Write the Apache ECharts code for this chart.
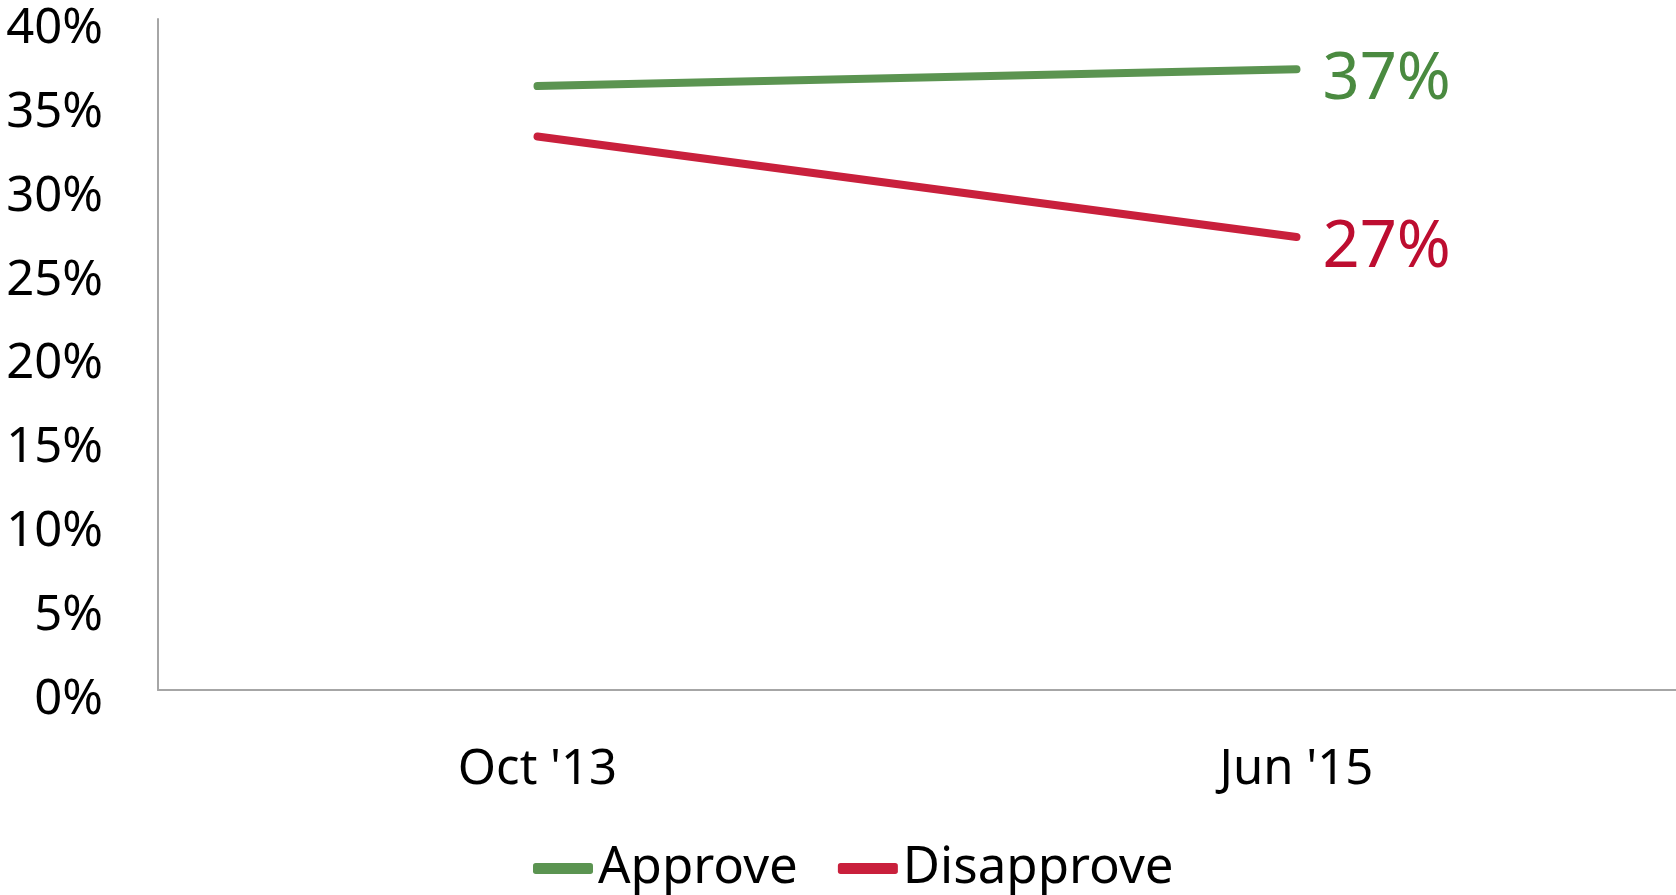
<!DOCTYPE html>
<html>
<head>
<meta charset="utf-8">
<script src="https://cdn.jsdelivr.net/npm/echarts@6/dist/echarts.min.js"></script>
<style>
  html, body { margin: 0; padding: 0; background: #fff; }
  #chart { width: 1676px; height: 895px; }
</style>
</head>
<body>
<div id="chart"></div>
<script>
var categories = ["Oct '13", "Jun '15"];
var approve = [36, 37];
var disapprove = [33, 27];
var yTicks = [0, 5, 10, 15, 20, 25, 30, 35, 40];

var font = 'Noto Sans';
var chart = echarts.init(document.getElementById('chart'));

function endLabel(color) {
    return {
        show: true,
        distance: 26,
        offset: [0, 11],
        color: color,
        fontFamily: font,
        fontSize: 65,
        formatter: function (p) {
            return p.value + '%';
        }
    };
}

var option = {
    animation: false,
    grid: { left: 158, right: 0, top: 19, bottom: 205, containLabel: false },
    legend: {
        bottom: -4,
        left: 528,
        icon: 'roundRect',
        itemWidth: 60,
        itemHeight: 11,
        itemGap: 40,
        textStyle: { fontFamily: font, fontSize: 51, color: '#000' },
        data: ['Approve', 'Disapprove']
    },
    xAxis: {
        type: 'category',
        data: categories,
        boundaryGap: true,
        axisLine: { lineStyle: { color: '#a6a6a6', width: 2 } },
        axisTick: { show: false },
        axisLabel: { fontFamily: font, fontSize: 49, color: '#000', margin: 56 }
    },
    yAxis: {
        type: 'value',
        min: yTicks[0],
        max: yTicks[yTicks.length - 1],
        interval: 5,
        axisLine: { show: true, lineStyle: { color: '#a6a6a6', width: 2 } },
        axisTick: { show: false },
        splitLine: { show: false },
        axisLabel: {
            fontFamily: font, fontSize: 49, color: '#000', margin: 55,
            verticalAlign: 'top', lineHeight: 20, formatter: '{value}%'
        }
    },
    series: [
        {
            name: 'Approve',
            type: 'line',
            data: approve,
            symbol: 'none',
            color: '#5b9451',
            lineStyle: { width: 8, cap: 'round' },
            endLabel: endLabel('#4a8a40')
        },
        {
            name: 'Disapprove',
            type: 'line',
            data: disapprove,
            symbol: 'none',
            color: '#c9203c',
            lineStyle: { width: 8, cap: 'round' },
            endLabel: endLabel('#bd0d30')
        }
    ]
};

chart.setOption(option);
</script>
</body>
</html>
